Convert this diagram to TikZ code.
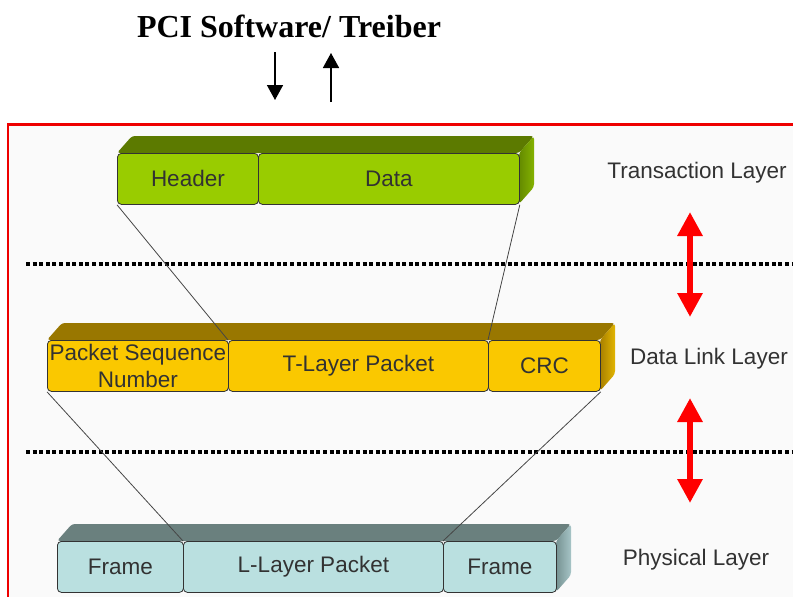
\documentclass[tikz,border=0pt]{standalone}
\usepackage{fontspec}
\setmainfont{Liberation Sans}
\newfontfamily\titlefont{Liberation Serif}
\usetikzlibrary{arrows.meta}

\definecolor{frameRed}{RGB}{238,0,0}
\definecolor{panelBg}{RGB}{250,250,250}
\definecolor{labelGray}{RGB}{50,50,50}
\definecolor{linkGray}{RGB}{70,70,70}
% green slab (transaction layer)
\definecolor{gFront}{RGB}{153,204,0}
\definecolor{gTop}{RGB}{92,122,0}
\definecolor{gSideA}{RGB}{100,138,0}
\definecolor{gSideB}{RGB}{132,178,0}
% gold slab (data link layer)
\definecolor{yFront}{RGB}{250,200,0}
\definecolor{yTop}{RGB}{153,119,0}
\definecolor{ySideA}{RGB}{168,128,0}
\definecolor{ySideB}{RGB}{226,180,0}
% teal slab (physical layer)
\definecolor{tFront}{RGB}{186,224,224}
\definecolor{tTop}{RGB}{106,128,126}
\definecolor{tSideA}{RGB}{118,146,146}
\definecolor{tSideB}{RGB}{166,196,198}

\tikzset{
  cell/.style={draw=black!80, line width=0.8pt, rounded corners=4pt,
    minimum height=51pt, inner sep=0pt, anchor=north west,
    text=labelGray, font=\fontsize{22.5}{26.5}\selectfont, align=center},
  layerlabel/.style={text=labelGray, font=\fontsize{22.5}{26}\selectfont, inner sep=0pt},
  link/.style={draw=linkGray, line width=0.8pt},
  levelsep/.style={line width=3.2pt, dash pattern=on 4pt off 2.6pt},
  redarrow/.style={draw=red, line width=6pt,
    {Triangle[length=24pt,width=24pt]}-{Triangle[length=24pt,width=24pt]}},
  swarrow/.style={line width=1.6pt, -{Triangle[length=15pt,width=16pt]}}
}

\begin{document}
\begin{tikzpicture}[x=1pt,y=-1pt]
\useasboundingbox (0,0) rectangle (793,597);

% panel with red frame
\fill[panelBg] (8,124) rectangle (793,597);
\draw[frameRed, line width=2.2pt] (8,600) -- (8,124.5) -- (796,124.5);

% title and the two software arrows
\node[font=\titlefont\bfseries\fontsize{32}{36}\selectfont, anchor=base, inner sep=0pt]
  (title) at (289,37) {PCI Software/ Treiber};
\coordinate (dnA) at (275,52);
\coordinate (dnB) at (275,100);
\coordinate (upA) at (331,102);
\coordinate (upB) at (331,53);
\draw[swarrow] (dnA) -- (dnB);
\draw[swarrow] (upA) -- (upB);

% dotted layer separators
\coordinate (sepA1) at (26,264);
\coordinate (sepA2) at (793,264);
\coordinate (sepB1) at (26,452);
\coordinate (sepB2) at (793,452);
\draw[levelsep] (sepA1) -- (sepA2);
\draw[levelsep] (sepB1) -- (sepB2);

% --- slab faces (top and right side) ---
\fill[gTop, rounded corners=3pt] (117,153) -- (132,136) -- (534,136) -- (519,153) -- cycle;
\shade[left color=gSideA, right color=gSideB, rounded corners=3pt]
  (519,153) -- (534,136) -- (534,187) -- (519,204) -- cycle;
\fill[yTop, rounded corners=3pt] (47,340) -- (62,323) -- (615,323) -- (600,340) -- cycle;
\shade[left color=ySideA, right color=ySideB, rounded corners=3pt]
  (600,340) -- (615,323) -- (615,374) -- (600,391) -- cycle;
\fill[tTop, rounded corners=3pt] (57,541) -- (72,524) -- (571,524) -- (556,541) -- cycle;
\shade[left color=tSideA, right color=tSideB, rounded corners=3pt]
  (556,541) -- (571,524) -- (571,575) -- (556,592) -- cycle;

% --- transaction layer packet ---
\node[cell, fill=gFront, minimum width=141pt] (hdr) at (117,153) {Header};
\node[cell, fill=gFront, minimum width=261pt] (data) at (258,153) {Data};

% --- data link layer packet ---
\node[cell, fill=yFront, minimum width=181pt] (psn) at (47,340) {Packet Sequence\\Number};
\node[cell, fill=yFront, minimum width=260pt] (tlp) at (228,340) {T-Layer Packet};
\node[cell, fill=yFront, minimum width=112pt] (crc) at (488,340) {CRC};

% --- physical layer packet ---
\node[cell, fill=tFront, minimum width=126pt] (frA) at (57,541) {Frame};
\node[cell, fill=tFront, minimum width=260pt] (llp) at (183,541) {L-Layer Packet};
\node[cell, fill=tFront, minimum width=113pt] (frB) at (443,541) {Frame};

% encapsulation links
\draw[link] (hdr.south west) -- (tlp.north west);
\draw[link] (data.south east) -- (crc.north west);
\draw[link] (psn.south west) -- (llp.north west);
\draw[link] (crc.south east) -- (frB.north west);

% layer names
\node[layerlabel] (tl) at (697,173) {Transaction Layer};
\node[layerlabel] (dl) at (709,359) {Data Link Layer};
\node[layerlabel] (pl) at (696,560) {Physical Layer};

% red exchange arrows between layers
\coordinate (rA1) at (690,212);
\coordinate (rA2) at (690,317);
\coordinate (rB1) at (690,398);
\coordinate (rB2) at (690,503);
\draw[redarrow] (rA1) -- (rA2);
\draw[redarrow] (rB1) -- (rB2);
\end{tikzpicture}
\end{document}
